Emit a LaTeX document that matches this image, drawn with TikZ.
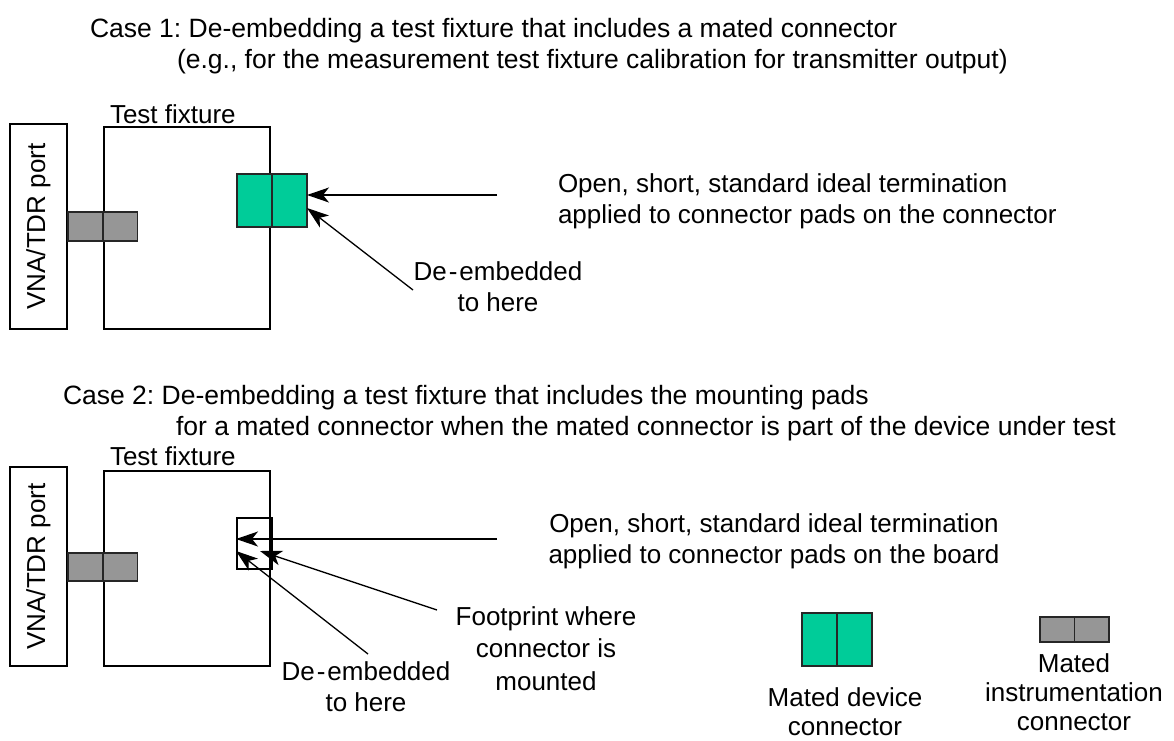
\documentclass[tikz,border=0pt]{standalone}
\usepackage{fontspec}
\setmainfont{Liberation Sans}
\usetikzlibrary{arrows.meta}
\definecolor{devgreen}{RGB}{0,204,153}
\definecolor{instgray}{RGB}{150,150,150}
\frenchspacing
% stacked lines whose baseline is the first line
\newcommand{\stackl}[2][c]{\begin{tabular}[t]{@{}#1@{}}#2\end{tabular}}

\begin{document}
\begin{tikzpicture}[x=1pt,y=-1pt,
  every node/.style={font=\fontsize{26}{31}\selectfont, inner sep=0pt, outer sep=0pt},
  titletxt/.style={anchor=base west, font=\fontsize{26.5}{31}\selectfont},
  txt/.style={anchor=base west},
  ctxt/.style={anchor=base},
  legtxt/.style={anchor=base, font=\fontsize{26}{29}\selectfont},
  frame/.style={draw, line width=1.3pt, anchor=north west},
  half/.style={draw=black!85, line width=1.8pt, anchor=north west},
  devhalf/.style={half, fill=devgreen, minimum width=35pt, minimum height=53pt},
  insthalf/.style={half, fill=instgray, minimum width=34.5pt},
  ptr/.style={line width=1.3pt, -{Stealth[length=22pt,width=15pt,inset=6pt]}}
]
\useasboundingbox (0,0) rectangle (1174,740);

% ---------------- Case 1 ----------------
\node[titletxt] (title1a) at (90,37) {Case 1: De-embedding a test fixture that includes a mated connector};
\node[titletxt] (title1b) at (177,68) {(e.g., for the measurement test fixture calibration for transmitter output)};

\node[frame, minimum width=57pt, minimum height=205pt] (vna1) at (10,124) {};
\node[rotate=90] (vnatext1) at (vna1.center) {VNA/TDR port};
\node[frame, minimum width=166pt, minimum height=202pt] (fix1) at (104,127) {};
\node[txt] (fixtext1) at (110,123) {Test fixture};

\node[insthalf, minimum height=29pt] (inst1a) at (68,212) {};
\node[insthalf, minimum height=29pt] (inst1b) at (103,212) {};
\node[devhalf] (dev1a) at (237,174) {};
\node[devhalf] (dev1b) at (272,174) {};

\node[txt] (term1) at (558,192) {\stackl[l]{Open, short, standard ideal termination\\applied to connector pads on the connector}};
\node[ctxt] (deemb1) at (498,280) {\stackl{De\kern2pt-\kern2pt embedded\\to here}};

\coordinate (term1tail) at (497,195);
\coordinate (term1tip) at (307,195);
\coordinate (deemb1tail) at (413,290);
\coordinate (deemb1tip) at (307,208);
\draw[ptr] (term1tail) -- (term1tip);
\draw[ptr] (deemb1tail) -- (deemb1tip);

% ---------------- Case 2 ----------------
\node[titletxt] (title2a) at (63,404) {Case 2: De-embedding a test fixture that includes the mounting pads};
\node[titletxt] (title2b) at (176,435) {for a mated connector when the mated connector is part of the device under test};

\node[frame, minimum width=57pt, minimum height=199pt] (vna2) at (10,467) {};
\node[rotate=90] (vnatext2) at (vna2.center) {VNA/TDR port};
\node[frame, minimum width=166pt, minimum height=195pt] (fix2) at (104,471) {};
\node[txt] (fixtext2) at (110,465) {Test fixture};

\node[insthalf, minimum height=28pt] (inst2a) at (68,553) {};
\node[insthalf, minimum height=28pt] (inst2b) at (103,553) {};
\node[frame, line width=1.2pt, minimum width=35pt, minimum height=51pt] (foot) at (237,518) {};

\node[ctxt] (term2) at (774,532) {\stackl{Open, short, standard ideal termination\\applied to connector pads on the board}};
\node[ctxt, font=\fontsize{26}{32.5}\selectfont] (foottext) at (546,625) {\stackl{Footprint where\\connector is\\mounted}};
\node[ctxt] (deemb2) at (366,680) {\stackl{De\kern2pt-\kern2pt embedded\\to here}};

\coordinate (term2tail) at (497,539);
\coordinate (term2tip) at (236,539);
\coordinate (foottail) at (437,610);
\coordinate (foottip) at (260,551);
\coordinate (deemb2tail) at (368,654);
\coordinate (deemb2tip) at (236,551);
\draw[ptr] (term2tail) -- (term2tip);
\draw[ptr] (foottail) -- (foottip);
\draw[ptr] (deemb2tail) -- (deemb2tip);

% ---------------- Legend ----------------
\node[devhalf] (legdev1) at (802,613) {};
\node[devhalf] (legdev2) at (837,613) {};
\node[legtxt] (legdevtext) at (845,706) {\stackl{Mated device\\connector}};

\node[insthalf, minimum height=25pt] (leginst1) at (1040,617) {};
\node[insthalf, minimum height=25pt] (leginst2) at (1074.5,617) {};
\node[legtxt] (leginsttext) at (1074,672) {\stackl{Mated\\instrumentation\\connector}};
\end{tikzpicture}
\end{document}
